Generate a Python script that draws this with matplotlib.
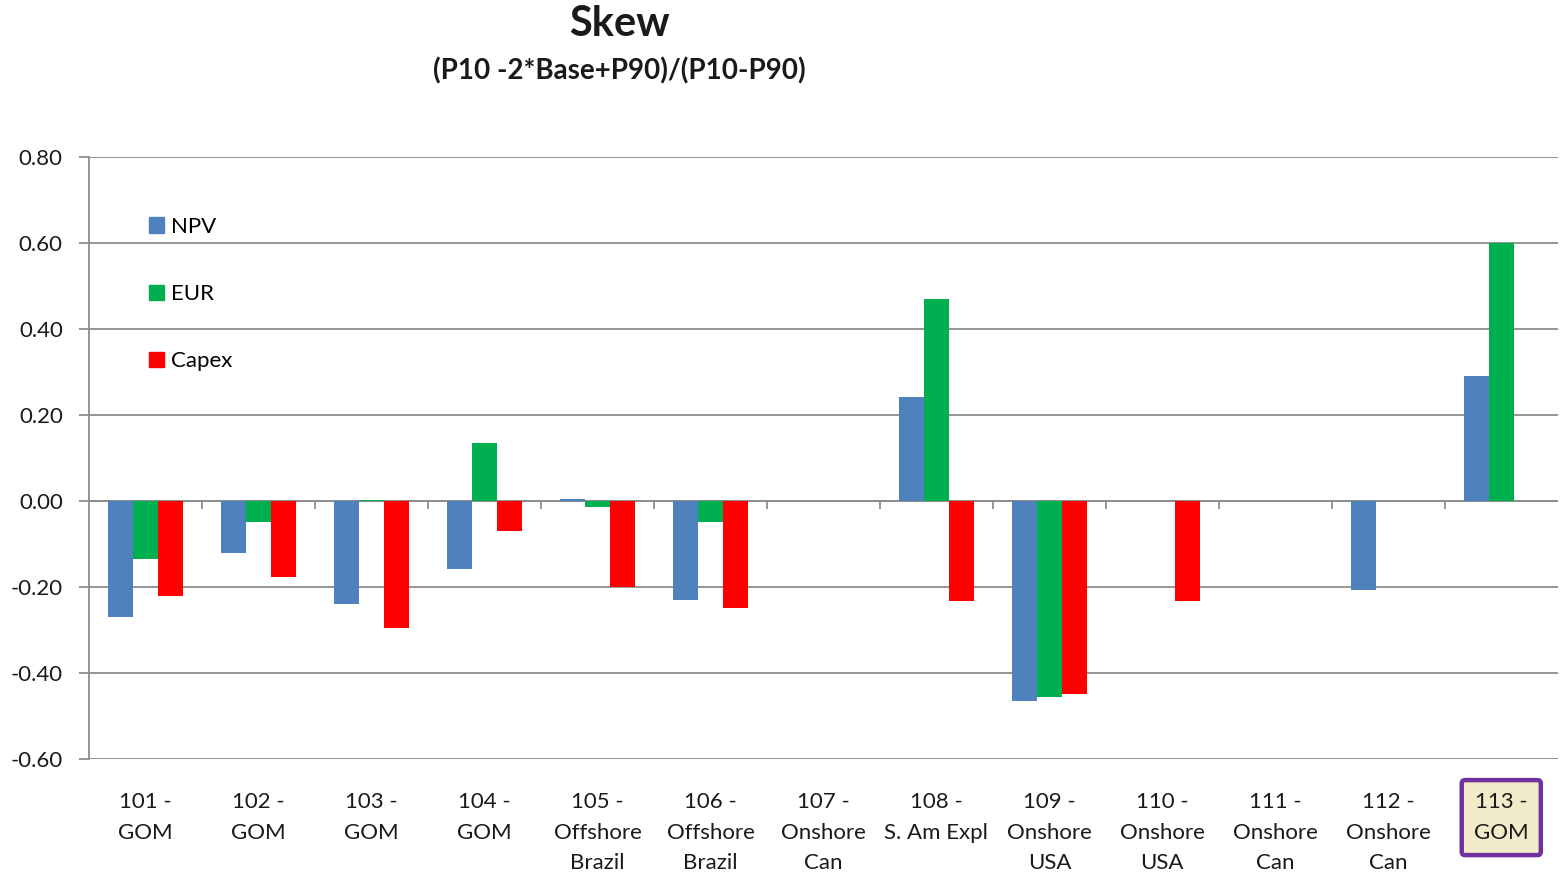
import numpy as np
import matplotlib.pyplot as plt
from matplotlib.patches import Patch

plt.rcParams['font.family'] = ['Lato', 'DejaVu Sans']

# skew values per asset
categories = ["101 -\nGOM", "102 -\nGOM", "103 -\nGOM", "104 -\nGOM",
              "105 -\nOffshore\nBrazil", "106 -\nOffshore\nBrazil",
              "107 -\nOnshore\nCan", "108 -\nS. Am Expl", "109 -\nOnshore\nUSA",
              "110 -\nOnshore\nUSA", "111 -\nOnshore\nCan", "112 -\nOnshore\nCan",
              "113 -\nGOM"]
npv = [-0.27, -0.12, -0.24, -0.158, 0.005, -0.23, 0.0, 0.242, -0.465,
       0.0, 0.001, -0.207, 0.29]
eur = [-0.135, -0.05, 0.002, 0.135, -0.015, -0.05, 0.0, 0.47, -0.455,
       0.0, 0.0, 0.001, 0.60]
capex = [-0.22, -0.177, -0.295, -0.07, -0.20, -0.25, 0.0, -0.233, -0.45,
         -0.233, 0.001, 0.0, 0.0]
series = [("NPV", npv, "#4F81BD"), ("EUR", eur, "#00B050"), ("Capex", capex, "#FF0000")]

text_col = "#1a1a1a"
grid_col = "#8c8c8c"

fig = plt.figure(figsize=(15.64, 8.75), dpi=100)
ax = fig.add_axes([0.057, 0.1326, 0.939, 0.688])

x = np.arange(len(categories))
w = 0.22
for i, (name, vals, col) in enumerate(series):
    ax.bar(x + (i - 1) * w, vals, width=w, color=col, label=name, zorder=3)

ax.set_xlim(-0.5, len(categories) - 0.5)
ax.set_ylim(-0.6, 0.8)
ax.set_yticks(np.arange(-0.6, 0.81, 0.2))
ax.set_yticklabels([f"{v:.2f}" for v in np.arange(-0.6, 0.81, 0.2)])
ax.yaxis.grid(True, color=grid_col, linewidth=1.3, zorder=0)
ax.tick_params(axis='y', length=7, color=grid_col, width=1.3,
               labelsize=16, labelcolor=text_col, pad=12)

for s in ['top', 'right', 'bottom']:
    ax.spines[s].set_visible(False)
ax.spines['left'].set_color(grid_col)
ax.spines['left'].set_linewidth(1.3)

# category axis at zero with boundary ticks
ax.axhline(0, color=grid_col, linewidth=1.3, zorder=2)
ax.vlines(np.arange(0.5, len(categories) - 0.5), -0.019, 0, color=grid_col,
          linewidth=1.3, zorder=2)

ax.set_xticks(x)
ax.set_xticklabels(categories, fontsize=16, color=text_col, linespacing=1.66, va='top')
ax.tick_params(axis='x', length=0, pad=24)
last = ax.get_xticklabels()[-1]
last.set_bbox(dict(boxstyle='round,pad=0.55,rounding_size=0.15',
                    fc='#F2EBC9', ec='#7030A0', lw=3.2))

handles = [Patch(color=c, label=n) for n, _, c in series]
ax.legend(handles=handles, loc='upper left', bbox_to_anchor=(0.0345, 0.915),
          frameon=False, fontsize=16, labelspacing=2.12, handlelength=0.7,
          handleheight=0.7, handletextpad=0.3, borderaxespad=0)

fig.text(0.396, 0.972, "Skew", ha='center', va='center', fontsize=30,
         fontweight='bold', color=text_col)
fig.text(0.396, 0.919, "(P10 -2*Base+P90)/(P10-P90)", ha='center', va='center',
         fontsize=20, fontweight='bold', color=text_col)

fig.savefig("out.png", dpi=100)
